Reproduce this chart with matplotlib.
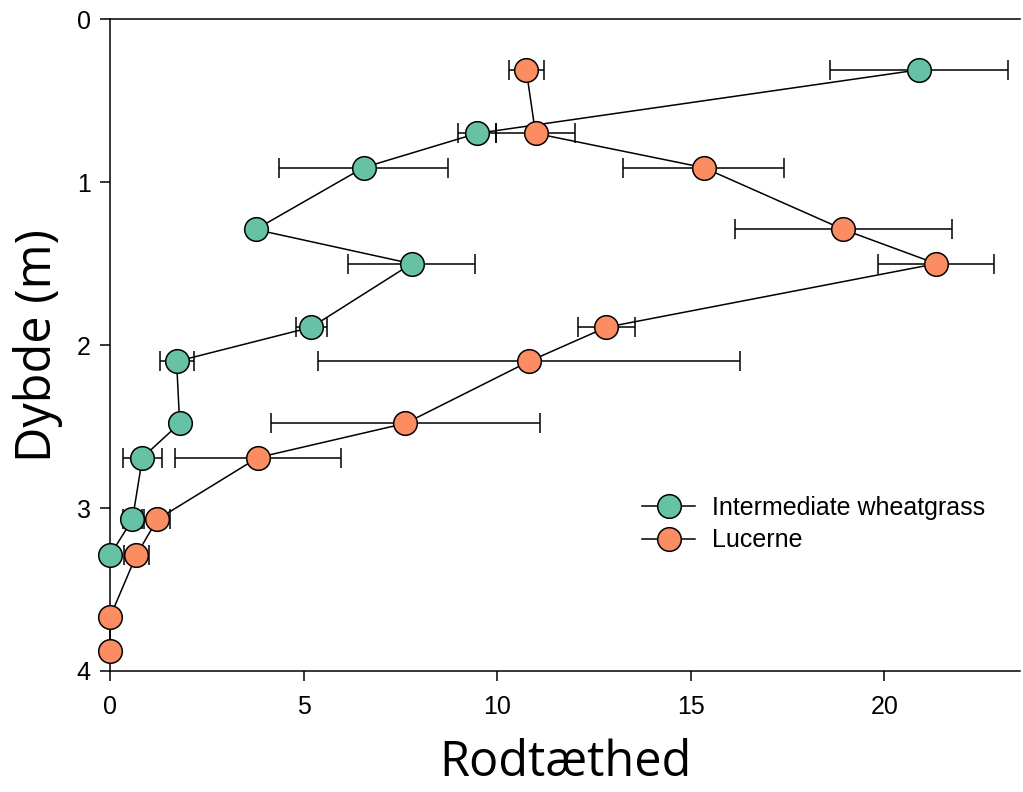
import matplotlib
matplotlib.use("Agg")
import matplotlib.pyplot as plt
from matplotlib.lines import Line2D

# Intermediate wheatgrass
depth_wheat = [0.31, 0.70, 0.91, 1.29, 1.50, 1.89, 2.10, 2.48, 2.69, 3.07, 3.29]
root_wheat = [20.89, 9.48, 6.55, 3.76, 7.79, 5.20, 1.72, 1.80, 0.84, 0.58, 0.0]
err_wheat = [2.30, 0.50, 2.18, 0.0, 1.63, 0.40, 0.44, 0.0, 0.50, 0.25, 0.0]

# Lucerne
depth_luc = [0.31, 0.70, 0.91, 1.29, 1.50, 1.89, 2.10, 2.48, 2.69, 3.07, 3.29, 3.67, 3.88]
root_luc = [10.75, 10.99, 15.33, 18.94, 21.34, 12.82, 10.82, 7.63, 3.82, 1.22, 0.68, 0.0, 0.0]
err_luc = [0.45, 1.03, 2.07, 2.80, 1.50, 0.74, 5.44, 3.47, 2.15, 0.34, 0.33, 0.0, 0.0]

labels = ["Intermediate wheatgrass", "Lucerne"]
colors = ["#66c2a5", "#fc8d62"]
xticks = [0, 5, 10, 15, 20]
yticks = [0, 1, 2, 3, 4]

plt.rcParams["font.family"] = ["Liberation Sans", "DejaVu Sans"]

fig = plt.figure(figsize=(10.23, 7.92), dpi=100)
ax = fig.add_axes([0.1075, 0.1528, 0.8895, 0.8228])

series = [(root_wheat, depth_wheat, err_wheat), (root_luc, depth_luc, err_luc)]
handles = []
for (x, y, e), lab, col in zip(series, labels, colors):
    ax.errorbar(x, y, xerr=e, fmt="-o", color="black", lw=1.1,
                elinewidth=1.1, capsize=7, capthick=1.1,
                ms=17, mfc=col, mec="black", mew=1.1,
                clip_on=False, zorder=3)
    # legend shows only line + marker, no error bar
    handles.append(Line2D([], [], color="black", lw=1.1, marker="o", ms=17,
                          mfc=col, mec="black", mew=1.1, label=lab))

ax.set_xlim(0, 23.5)
ax.set_ylim(4, 0)
ax.set_xticks(xticks)
ax.set_yticks(yticks)
ax.tick_params(labelsize=18, length=7, width=1.1, direction="out")
ax.tick_params(axis="x", pad=10)
ax.tick_params(axis="y", pad=7)
ax.spines["right"].set_visible(False)
for s in ("left", "bottom", "top"):
    ax.spines[s].set_linewidth(1.1)

ax.set_xlabel("Rodtæthed", fontsize=35, family="Open Sans", labelpad=14)
ax.set_ylabel("Dybde (m)", fontsize=35, family="Open Sans", labelpad=10)

ax.legend(handles=handles, loc="upper left", bbox_to_anchor=(0.585, 0.269),
          frameon=False, fontsize=18, handlelength=2.1,
          handletextpad=0.7, labelspacing=0.35, borderpad=0,
          borderaxespad=0)

fig.savefig("out.png", dpi=100)
